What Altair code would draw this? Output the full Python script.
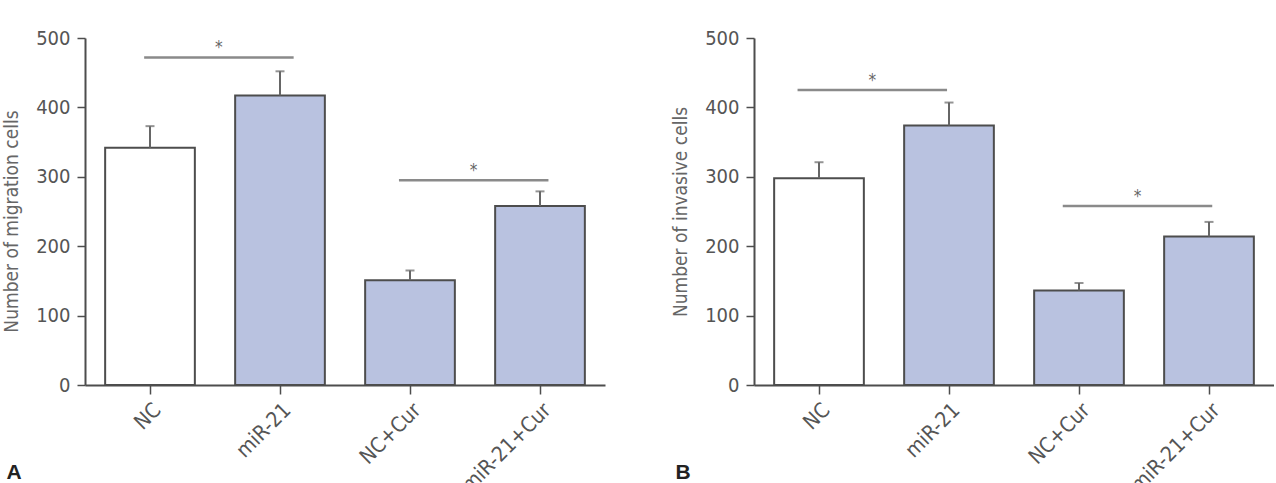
import altair as alt
import pandas as pd

# Treatment groups shown on both panels
categories = ["NC", "miR-21", "NC+Cur", "miR-21+Cur"]

# Panel A: transwell migration (mean cell count and error)
migration_mean = [342, 417, 151, 258]
migration_err = [31, 35, 14, 21]

# Panel B: matrigel invasion (mean cell count and error)
invasion_mean = [298, 374, 136, 214]
invasion_err = [23, 33, 11, 21]

# Significance brackets: (first group, second group, bracket level)
migration_brackets = [("NC", "miR-21", 472), ("NC+Cur", "miR-21+Cur", 295)]
invasion_brackets = [("NC", "miR-21", 425), ("NC+Cur", "miR-21+Cur", 258)]

y_ticks = [0, 100, 200, 300, 400, 500]

FONT = "'DejaVu Sans Condensed', 'Liberation Sans Narrow', sans-serif"
BAR_BLUE = "#b9c2e0"
DARK = "#4d4d4d"
TEXT = "#555555"
PLOT_W, PLOT_H = 520, 347
BRACKET_HALF = 0.575      # half-length of a bracket, in category steps
BRACKET_NUDGE = {"A": [0.03, -0.01], "B": [-0.09, -0.05]}


def panel(means, errs, brackets, y_title, letter, title_y=None):
    bars_df = pd.DataFrame({
        "group": categories,
        "mean": means,
        "upper": [m + e for m, e in zip(means, errs)],
    })
    idx = {c: i for i, c in enumerate(categories)}
    rows = []
    for k, (g1, g2, level) in enumerate(brackets):
        mid = (idx[g1] + idx[g2]) / 2 + 0.5 + BRACKET_NUDGE[letter][k]
        rows.append({"x1": mid - BRACKET_HALF, "x2": mid + BRACKET_HALF,
                     "xm": mid, "level": level, "star": "*"})
    br_df = pd.DataFrame(rows)

    x_band = alt.X(
        "group:N", sort=categories, title=None,
        scale=alt.Scale(domain=categories, paddingInner=0.31, paddingOuter=0.155),
        axis=alt.Axis(labelAngle=-45, labelFontSize=21, labelColor=TEXT,
                      labelFont=FONT, labelPadding=5, tickSize=9, tickWidth=1.5,
                      tickColor=DARK, domainColor=DARK, domainWidth=2),
    )
    y_axis_opts = dict(values=y_ticks, grid=False, title=y_title,
                       labelFontSize=20, labelColor=TEXT, labelFont=FONT,
                       labelPadding=7, tickSize=8, tickWidth=1.5, tickColor=DARK,
                       domainColor=DARK, domainWidth=2,
                       titleFont=FONT, titleFontSize=19, titleFontWeight="normal",
                       titleColor="#666666", titlePadding=14)
    if title_y is not None:
        y_axis_opts["titleY"] = title_y
    y_val = alt.Y("mean:Q", scale=alt.Scale(domain=[0, 500], nice=False),
                  axis=alt.Axis(**y_axis_opts))

    bars = alt.Chart(bars_df).mark_bar(stroke=DARK, strokeWidth=2).encode(
        x=x_band,
        y=y_val,
        color=alt.Color("group:N", legend=None,
                        scale=alt.Scale(domain=categories,
                                        range=["#ffffff", BAR_BLUE, BAR_BLUE, BAR_BLUE])),
    )
    err_line = alt.Chart(bars_df).mark_rule(color="#666666", strokeWidth=2).encode(
        x=alt.X("group:N", sort=categories), y="mean:Q", y2="upper:Q")
    err_cap = alt.Chart(bars_df).mark_tick(color="#666666", thickness=2, size=9).encode(
        x=alt.X("group:N", sort=categories), y="upper:Q")

    x_lin = alt.Scale(domain=[0, 4], nice=False, zero=False)
    lines = alt.Chart(br_df).mark_rule(color="#8a8a8a", strokeWidth=2.5).encode(
        x=alt.X("x1:Q", scale=x_lin, axis=None), x2="x2:Q", y="level:Q")
    stars = alt.Chart(br_df).mark_text(
        color="#666666", font=FONT, fontSize=17, baseline="alphabetic", dy=-4
    ).encode(x=alt.X("xm:Q", scale=x_lin, axis=None), y="level:Q", text="star:N")

    tag = alt.Chart(pd.DataFrame({"t": [letter]})).mark_text(
        font="'Liberation Sans', Arial, sans-serif", fontSize=21, fontWeight="bold",
        color="#222222", align="center", baseline="alphabetic",
    ).encode(x=alt.value(-71), y=alt.value(441), text="t:N")

    base = alt.layer(bars, err_line, err_cap).resolve_scale(x="shared")
    return alt.layer(base, lines, stars, tag).resolve_scale(x="independent").properties(
        width=PLOT_W, height=PLOT_H)


left = panel(migration_mean, migration_err, migration_brackets,
             "Number of migration cells", "A", title_y=183)
right = panel(invasion_mean, invasion_err, invasion_brackets,
              "Number of invasive cells", "B")

chart = alt.hconcat(left, right, spacing=66).properties(
    padding={"left": 2, "top": 28, "right": 0, "bottom": 0},
    background="white",
).configure_view(stroke=None)

chart.save("out.html", embed_options={"renderer": "svg", "actions": False})
